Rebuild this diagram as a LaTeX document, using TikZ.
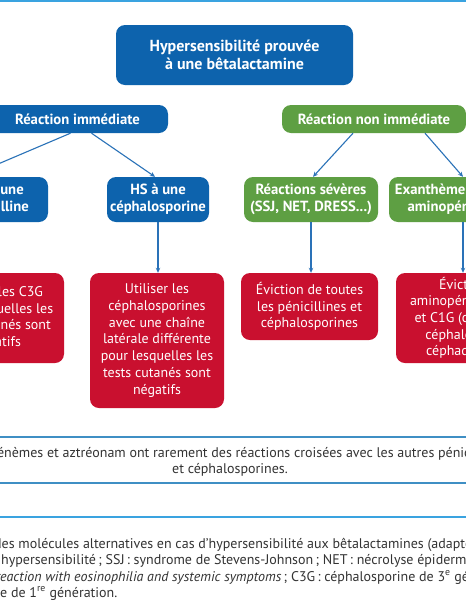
\documentclass[tikz,border=0pt]{standalone}
\usepackage{fontspec}
\setmainfont{PT Sans}
\usetikzlibrary{arrows.meta}
\definecolor{hsblue}{HTML}{0D63AD}
\definecolor{hsgreen}{HTML}{5E9F43}
\definecolor{hsred}{HTML}{C9102F}
\definecolor{arrowblue}{HTML}{2A72B8}
\definecolor{ruleblue}{HTML}{3F8FC4}
\definecolor{topblue}{HTML}{3AA3E0}
\definecolor{txtgray}{HTML}{333333}
\begin{document}
\begin{tikzpicture}[x=1pt,y=-1pt,
  box/.style={rounded corners=9pt, text=white, align=center, inner sep=0pt},
  bluebox/.style={box, fill=hsblue, font=\bfseries\fontsize{14.7}{17}\selectfont},
  greenbox/.style={box, fill=hsgreen, font=\bfseries\fontsize{14.7}{17}\selectfont},
  redbox/.style={box, fill=hsred, font=\fontsize{14}{16.7}\selectfont},
  conn/.style={draw=arrowblue, line width=1.1pt, -{Stealth[length=5pt,width=4.5pt]}},
  rule/.style={draw=ruleblue, line width=1.2pt},
  note/.style={text=txtgray, font=\fontsize{14}{16.5}\selectfont, inner sep=0pt}
]
\useasboundingbox (0,0) rectangle (466,600);
\fill[white] (0,0) rectangle (466,600);
\draw[topblue, line width=2.5pt] (0,1.2) -- (466,1.2);

\node[bluebox, font=\bfseries\fontsize{16}{18}\selectfont, minimum width=237pt, minimum height=60pt] (top) at (234.5,55) {Hypersensibilité prouvée\\à une bêtalactamine};

\node[bluebox, minimum width=181pt, minimum height=28pt] (ri) at (77.5,119) {Réaction immédiate};
\node[greenbox, minimum width=184pt, minimum height=28pt] (rni) at (374,119) {Réaction non immédiate};

\node[bluebox, minimum width=104pt, minimum height=45pt] (hsp) at (-4,199.5) {HS à une\\pénicilline};
\node[bluebox, minimum width=102pt, minimum height=45pt] (hsc) at (158,199.5) {HS à une\\céphalosporine};
\node[greenbox, minimum width=134pt, minimum height=45pt] (rs) at (311,199.5) {Réactions sévères\\(SSJ, NET, DRESS...)};
\node[greenbox, minimum width=148pt, minimum height=45pt] (ex) at (463,199.5) {Exanthème bénin aux\\aminopénicillines};

\node[redbox, minimum width=134pt, minimum height=90pt] (red0) at (-3,318) {Utiliser les C3G\\pour lesquelles les\\tests cutanés sont\\négatifs};
\node[redbox, minimum width=134pt, minimum height=135pt] (red1) at (157,340.5) {Utiliser les\\céphalosporines\\avec une chaîne\\latérale différente\\pour lesquelles les\\tests cutanés sont\\négatifs};
\node[redbox, minimum width=137pt, minimum height=67pt] (red2) at (309.5,306.5) {Éviction de toutes\\les pénicillines et\\céphalosporines};
\node[redbox, minimum width=134pt, minimum height=90pt] (red3) at (463,318) {Éviction\\aminopénicillines\\et C1G (céfaclor,\\céphalexine,\\céphadroxil)};

\draw[conn] ([xshift=-7pt]ri.south) -- ([xshift=-28pt]hsp.north);
\draw[conn] ([xshift=14pt]ri.south) -- ([xshift=-3pt]hsc.north);
\draw[conn] ([xshift=-21pt]rni.south) -- ([xshift=2pt]rs.north);
\draw[conn] ([xshift=51pt]rni.south) -- (ex.north);
\draw[conn] (hsp.south) -- (hsp.south |- red0.north);
\draw[conn] (hsc.south) -- (hsc.south |- red1.north);
\draw[conn] (rs.south) -- (rs.south |- red2.north);
\draw[conn] (ex.south) -- (ex.south |- red3.north);

\draw[rule] (0,437) -- (466,437);
\node[note, anchor=base west] (n1) at (4,457) {\llap{Les carbapé}nèmes et aztréonam ont rarement des réactions croisées avec les autres pénicillines};
\node[note, anchor=base] (n2) at (230,473) {et céphalosporines.};
\draw[rule] (0,483) -- (466,483);
\draw[topblue, line width=2pt] (0,517) -- (466,517);

\node[note, anchor=base west] (c1) at (1.5,548) {\llap{Figure. Choix d}es molécules alternatives en cas d'hypersensibilité aux bêtalactamines (adapté de la référence)};
\node[note, anchor=base west] (c2) at (1,564) {\llap{HS\,: }hypersensibilité\,; SSJ\,: syndrome de Stevens-Johnson\,; NET\,: nécrolyse épidermique toxique};
\node[note, anchor=base west] (c3) at (0,581) {\llap{\itshape drug r}\textit{eaction with eosinophilia and systemic symptoms}\,; C3G\,: céphalosporine de 3\textsuperscript{e} génération\,; C1G\,:};
\node[note, anchor=base west] (c4) at (0,597) {\llap{céphalosporin}e de 1\textsuperscript{re} génération.};
\end{tikzpicture}
\end{document}
